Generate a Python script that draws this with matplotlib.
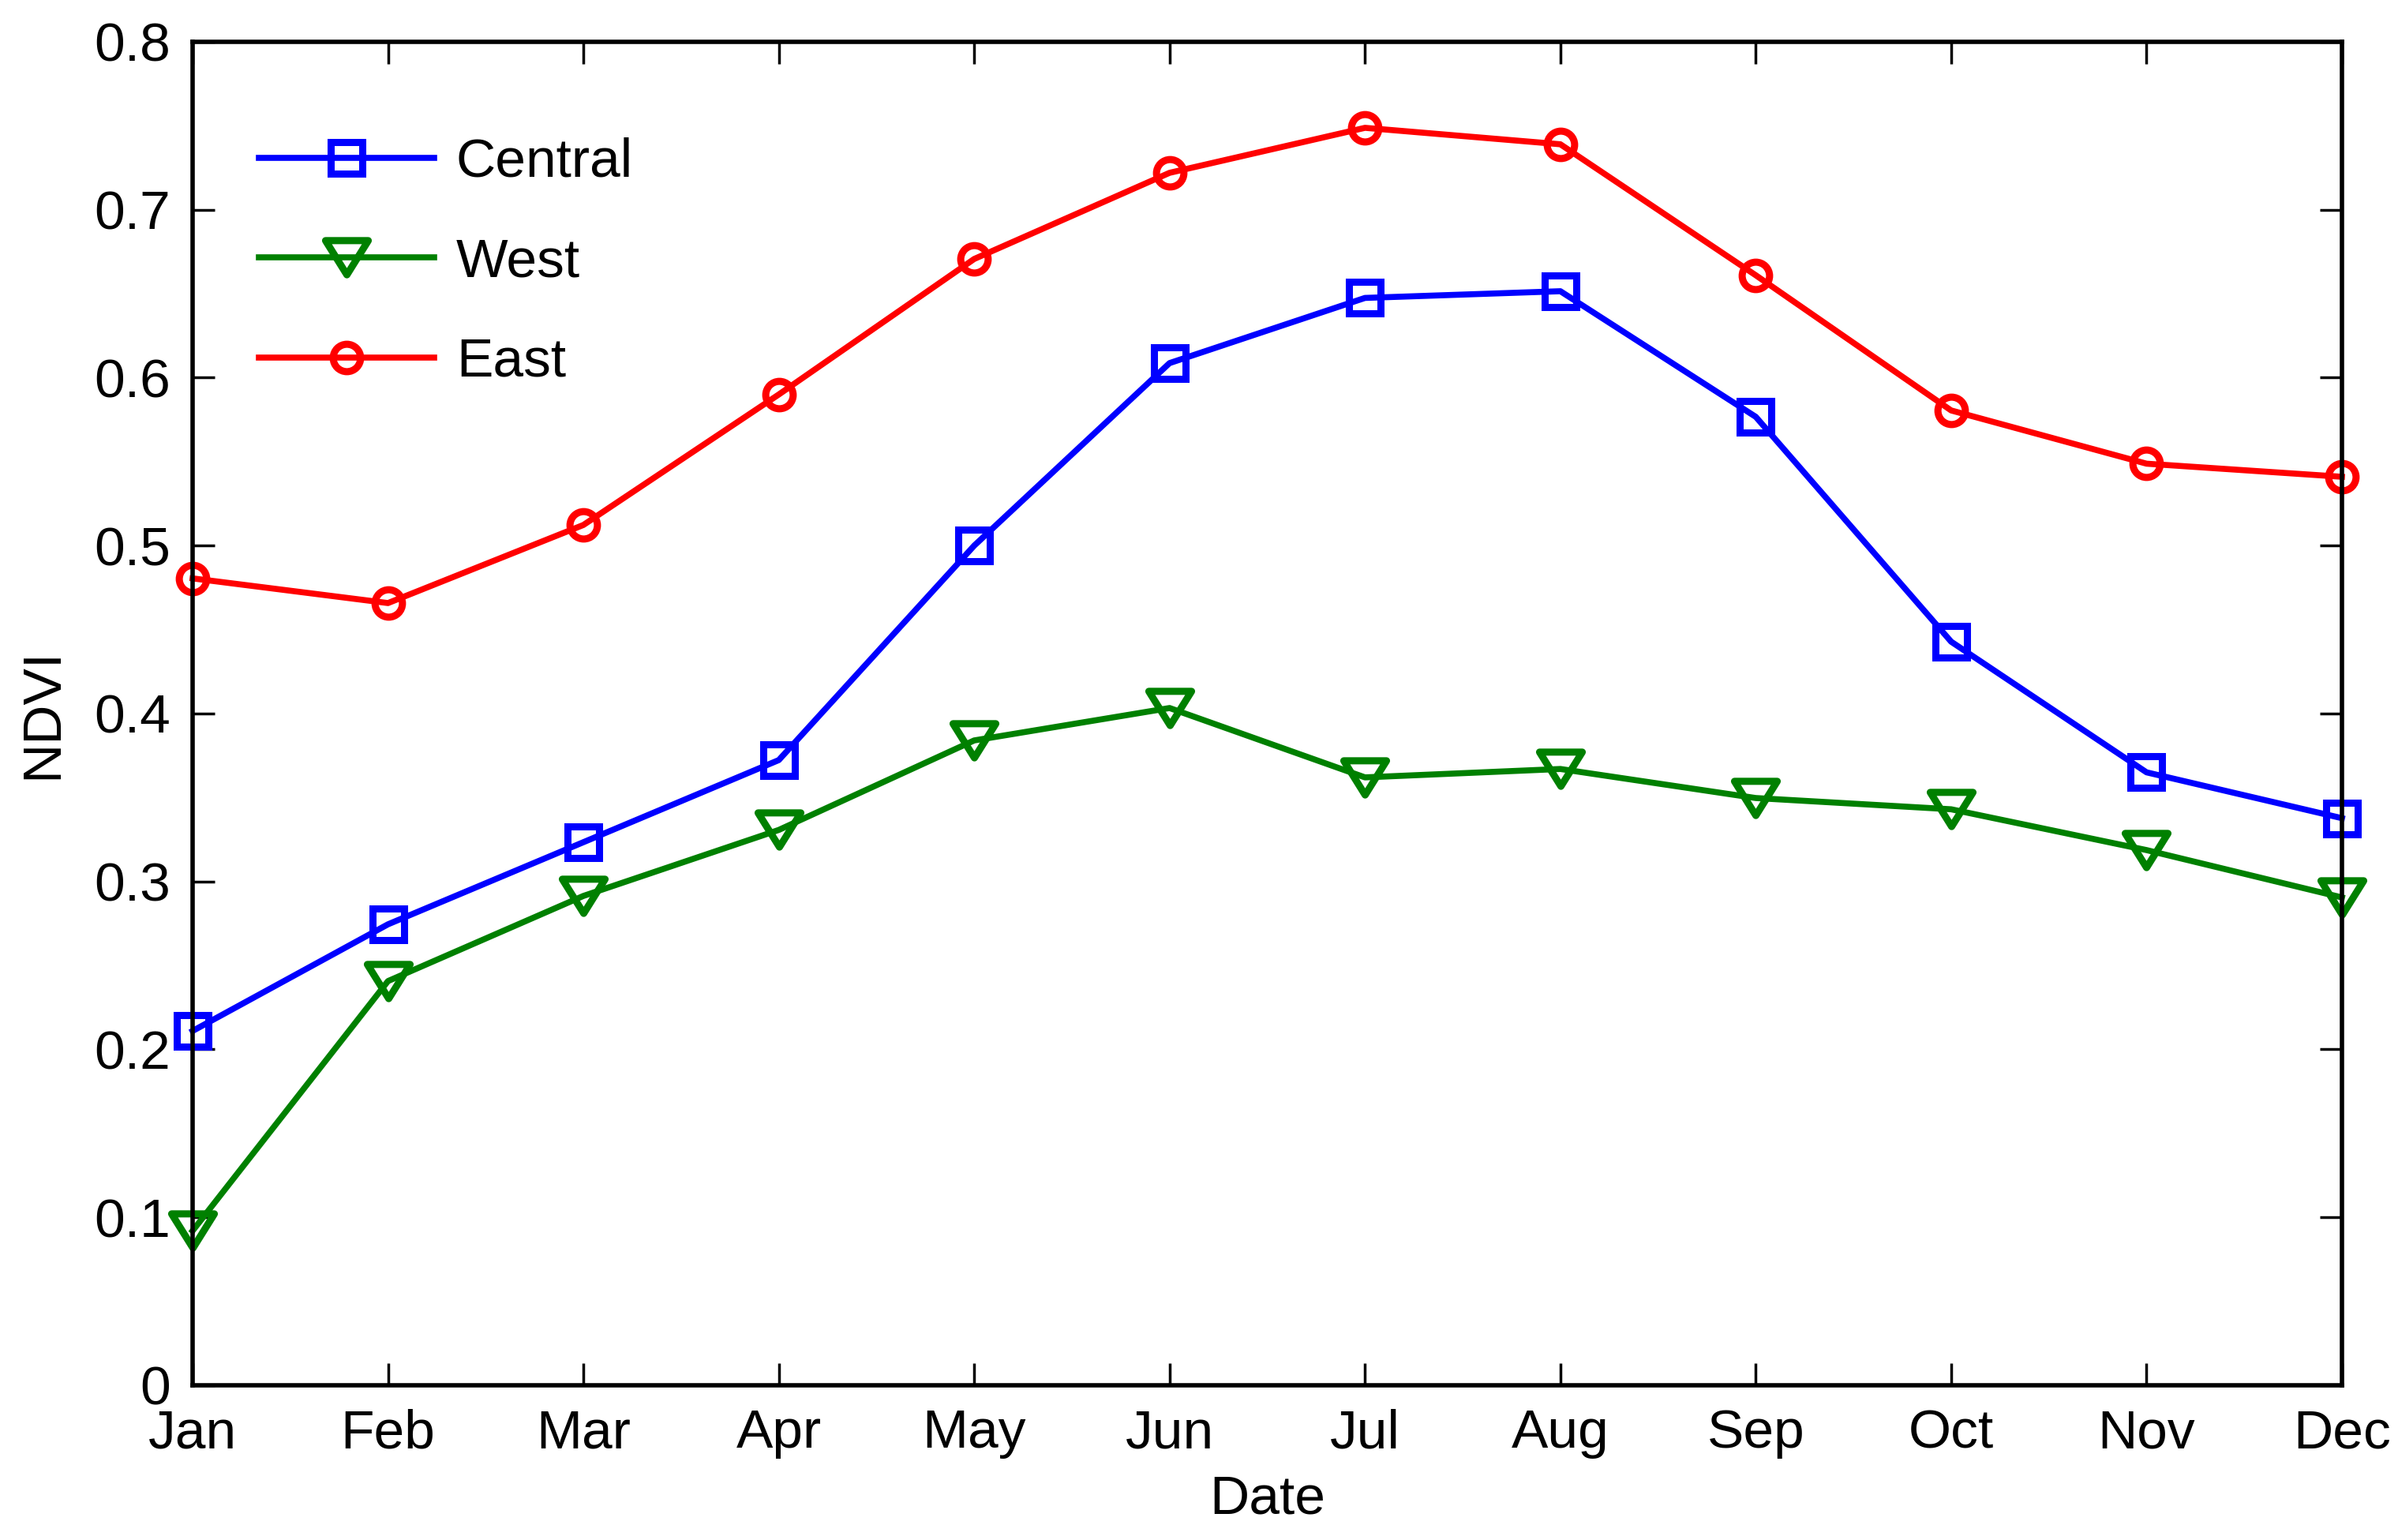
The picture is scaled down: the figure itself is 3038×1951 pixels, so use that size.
import matplotlib
matplotlib.use("Agg")
import matplotlib.pyplot as plt
from matplotlib.path import Path
from matplotlib import font_manager

months = ["Jan", "Feb", "Mar", "Apr", "May", "Jun", "Jul", "Aug", "Sep", "Oct", "Nov", "Dec"]
central = [0.211, 0.2745, 0.3234, 0.3723, 0.500, 0.6087, 0.6475, 0.6515, 0.5767, 0.4428, 0.365, 0.3377]
west = [0.092, 0.2407, 0.2914, 0.3307, 0.384, 0.4033, 0.362, 0.367, 0.3497, 0.343, 0.3187, 0.2905]
east = [0.4805, 0.4658, 0.5123, 0.590, 0.6707, 0.722, 0.7488, 0.739, 0.661, 0.5805, 0.5488, 0.541]
yticks = [0, 0.1, 0.2, 0.3, 0.4, 0.5, 0.6, 0.7, 0.8]

names = {f.name for f in font_manager.fontManager.ttflist}
fam = "Liberation Sans Narrow" if "Liberation Sans Narrow" in names else "Liberation Sans"
plt.rcParams["font.family"] = [fam, "DejaVu Sans"]
FS = 50

fig = plt.figure(figsize=(30.38, 19.51), dpi=100)
ax = fig.add_axes([244 / 3038, 1 - 1755 / 1951, (2967 - 244) / 3038, (1755 - 53) / 1951])

x = list(range(len(months)))
tri = Path([(-1, 0.8), (1, 0.8), (0, -0.8), (-1, 0.8)],
           [Path.MOVETO, Path.LINETO, Path.LINETO, Path.CLOSEPOLY])

ax.plot(x, central, color=(0, 0, 1), lw=5.5, marker="s", ms=29, mew=6.5,
        mfc="none", mec=(0, 0, 1), label="Central", clip_on=False)
ax.plot(x, west, color=(0, 0.5, 0), lw=5.5, marker=tri, ms=39, mew=6.5,
        mfc="none", mec=(0, 0.5, 0), label="West", clip_on=False)
ax.plot(x, east, color=(1, 0, 0), lw=5.5, marker="o", ms=25, mew=6.5,
        mfc="none", mec=(1, 0, 0), label="East", clip_on=False)

ax.set_xlim(0, 11)
ax.set_ylim(0, 0.8)
ax.set_xticks(x)
ax.set_xticklabels(months)
ax.set_yticks(yticks)
ax.set_yticklabels([("%g" % v) for v in yticks])

for s in ax.spines.values():
    s.set_linewidth(4)
ax.tick_params(axis="both", which="major", direction="in", length=20, width=2.5,
               labelsize=FS, top=True, right=True)
ax.tick_params(axis="x", pad=21)
ax.tick_params(axis="y", pad=20)

ax.set_xlabel("Date", fontsize=FS, labelpad=14)
ax.set_ylabel("NDVI", fontsize=FS, labelpad=24)

leg = ax.legend(loc="upper left", bbox_to_anchor=(0.0308, 0.929), frameon=False,
                fontsize=FS, handlelength=3.2, handletextpad=0.4, labelspacing=0.9,
                borderaxespad=0, borderpad=0)

fig.savefig("out.png", dpi=100, facecolor="white")
